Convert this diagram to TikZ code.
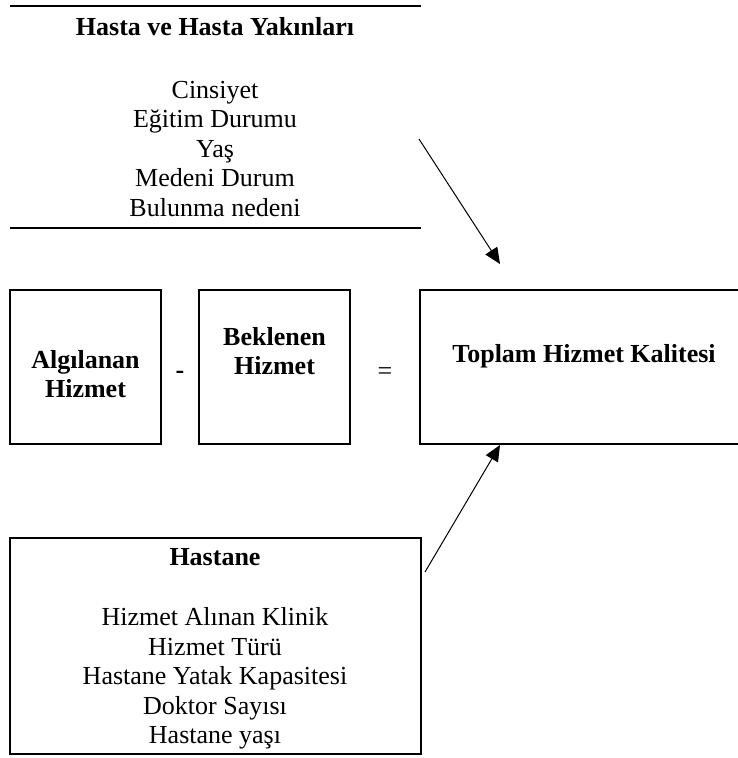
\documentclass[tikz,border=0pt]{standalone}
\usepackage{fontspec}
\setmainfont{Liberation Serif}
\usetikzlibrary{arrows.meta, positioning}

\tikzset{
  kutu/.style={draw, line width=2.2pt, minimum width=151pt, minimum height=154pt, inner sep=0pt},
  baslik/.style={font=\bfseries, align=center},
  liste/.style={align=center, inner sep=0pt},
  ok/.style={-{Triangle[length=16pt,width=14pt]}, line width=1pt},
  cizgi/.style={line width=2.2pt}
}

\begin{document}
\begin{tikzpicture}[x=1pt, y=-1pt, node font=\fontsize{26}{29.5}\selectfont]
\useasboundingbox (0,0) rectangle (737,758);

% hasta ve hasta yakinlari
\draw[cizgi] (10,6) -- (421,6);
\node[baslik] (hasta) at (215,27) {Hasta ve Hasta Yakınları};
\node[liste] (hasta liste) at (215,149) {Cinsiyet\\Eğitim Durumu\\Yaş\\Medeni Durum\\Bulunma nedeni};
\draw[cizgi] (10,228) -- (421,228);

% hizmet kutulari
\node[kutu] (algilanan) at (85.5,367) {};
\node[baslik] (algilanan yazi) at (85.5,374) {Algılanan\\Hizmet};
\node (eksi) at (180,375) {\textbf{-}};
\node[kutu] (beklenen) at (274.5,367) {};
\node[baslik] (beklenen yazi) at (274.5,351) {Beklenen\\Hizmet};
\node (esit) at (385,374) {=};
\node[kutu, minimum width=330pt] (toplam) at (585,367) {};
\node[baslik] (toplam yazi) at (584,356) {Toplam Hizmet Kalitesi};

% hastane
\node[kutu, minimum width=411pt, minimum height=216pt] (hastane) at (215.5,646) {};
\node[baslik] (hastane baslik) at (215,557) {Hastane};
\node[liste] (hastane liste) at (215,678.5) {Hizmet Alınan Klinik\\Hizmet Türü\\Hastane Yatak Kapasitesi\\Doktor Sayısı\\Hastane yaşı};

% oklar
\coordinate (hasta ok) at (419,139);
\coordinate (hasta uc) at (500,264);
\coordinate (hastane ok) at (425,572);
\coordinate (hastane uc) at (500,445);
\draw[ok] (hasta ok) -- (hasta uc);
\draw[ok] (hastane ok) -- (hastane uc);
\end{tikzpicture}
\end{document}
